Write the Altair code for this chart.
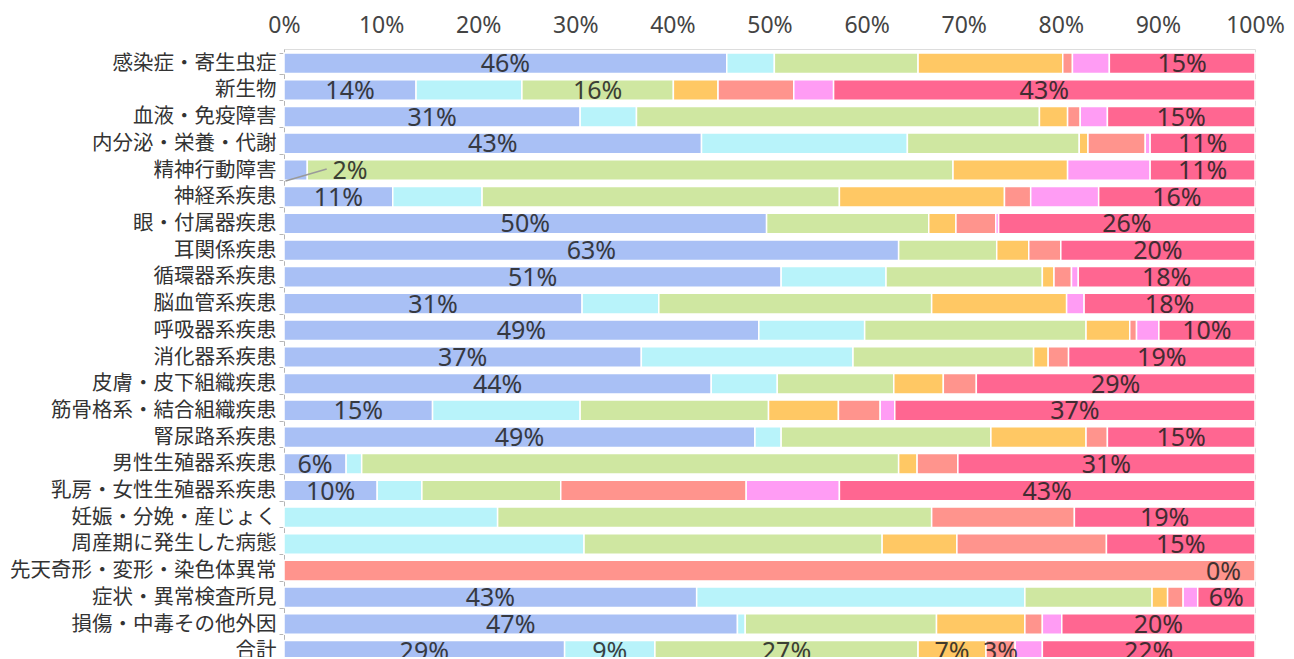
import altair as alt
import pandas as pd

categories = ["感染症・寄生虫症", "新生物", "血液・免疫障害", "内分泌・栄養・代謝", "精神行動障害",
              "神経系疾患", "眼・付属器疾患", "耳関係疾患", "循環器系疾患", "脳血管系疾患",
              "呼吸器系疾患", "消化器系疾患", "皮膚・皮下組織疾患", "筋骨格系・結合組織疾患",
              "腎尿路系疾患", "男性生殖器系疾患", "乳房・女性生殖器系疾患", "妊娠・分娩・産じょく",
              "周産期に発生した病態", "先天奇形・変形・染色体異常", "症状・異常検査所見",
              "損傷・中毒その他外因", "合計"]

series_names = ["A", "B", "C", "D", "E", "F", "G"]
series_colors = ["#A9C0F5", "#B8F3FA", "#CFE7A1", "#FFC864", "#FF948D", "#FF9CF4", "#FF6691"]

s_blue = [45.6, 13.6, 30.5, 43.0, 2.4, 11.2, 49.7, 63.3, 51.2, 30.7, 48.9, 36.8, 44.0, 15.3, 48.5, 6.4, 9.6, 0, 0, 0, 42.5, 46.7, 28.9]
s_cyan = [4.9, 10.9, 5.8, 21.2, 0, 9.2, 0, 0, 10.8, 7.9, 10.9, 21.8, 6.8, 15.2, 2.7, 1.6, 4.6, 22.0, 30.9, 0, 33.8, 0.8, 9.3]
s_green = [14.8, 15.6, 41.5, 17.7, 66.5, 36.8, 16.7, 10.1, 16.1, 28.1, 22.8, 18.6, 12.0, 19.4, 21.6, 55.3, 14.3, 44.7, 30.7, 0, 13.1, 19.7, 27.1]
s_orange = [14.9, 4.6, 2.9, 0.9, 11.8, 17.0, 2.8, 3.3, 1.2, 13.9, 4.5, 1.5, 5.1, 7.2, 9.8, 1.9, 0, 0, 7.7, 0, 1.6, 9.1, 7.0]
s_salmon = [1.0, 7.8, 1.3, 5.9, 0, 2.7, 4.1, 3.3, 1.8, 0, 0.7, 2.1, 3.4, 4.3, 2.2, 4.2, 19.1, 14.7, 15.4, 100, 1.6, 1.8, 3.0]
s_violet = [3.8, 4.1, 2.8, 0.5, 8.5, 7.0, 0.3, 0, 0.7, 1.8, 2.3, 0, 0, 1.5, 0, 0, 9.6, 0, 0, 0, 1.5, 2.0, 2.8]
s_hotpink = [15.0, 43.4, 15.2, 10.8, 10.8, 16.1, 26.4, 20.0, 18.2, 17.6, 9.9, 19.2, 28.7, 37.1, 15.2, 30.6, 42.8, 18.6, 15.3, 0, 5.9, 19.9, 21.9]

series_values = [s_blue, s_cyan, s_green, s_orange, s_salmon, s_violet, s_hotpink]

# segments that carry a value label (besides first and last series)
extra_labels = [("新生物", "C"), ("合計", "B"), ("合計", "C"), ("合計", "D"), ("合計", "E")]
callout_row = "精神行動障害"

rows = []
for i, cat in enumerate(categories):
    for k, (name, vals) in enumerate(zip(series_names, series_values)):
        v = vals[i]
        show = (name in ("A", "G") or (cat, name) in extra_labels)
        if name == "A" and (v == 0 or cat == callout_row):
            show = False
        rows.append({"cat": cat, "series": name, "k": k, "value": v,
                     "show": show, "txt": f"{int(v + 0.5)}%"})
df = pd.DataFrame(rows)

FONT_JP = "Noto Sans CJK JP"
FONT_NUM = "Noto Sans"
LABEL_SIZE = 25

yscale = alt.Scale(paddingInner=0.23, paddingOuter=0.15)
y_axis = alt.Axis(labelFont=FONT_JP, labelFontSize=20.5, labelColor="#333333",
                  labelLimit=0, tickBand="extent", tickSize=5, tickColor="#b5b5b5",
                  domainColor="#b5b5b5", labelPadding=3, grid=False)
y_enc = alt.Y("cat:N", sort=categories, title=None, scale=yscale, axis=y_axis)

xscale = alt.Scale(domain=[0, 100], nice=False)
x_axis = alt.Axis(orient="top", values=list(range(0, 101, 10)),
                  labelExpr="datum.value + '%'", ticks=False, domain=False,
                  grid=False, labelFont=FONT_NUM, labelFontSize=23,
                  labelColor="#444444", labelPadding=12, labelFlush=False,
                  labelOverlap=False, labelBound=False)

bars = alt.Chart(df).transform_filter("datum.value > 0").mark_bar(
    stroke="white", strokeWidth=1.5
).encode(
    x=alt.X("value:Q", stack="zero", scale=xscale, title=None, axis=x_axis),
    y=y_enc,
    color=alt.Color("series:N", scale=alt.Scale(domain=series_names, range=series_colors), legend=None),
    order=alt.Order("k:Q"),
)

stacked = alt.Chart(df).transform_stack(
    stack="value", groupby=["cat"], as_=["x0", "x1"], sort=[alt.SortField("k", order="ascending")]
).transform_calculate(mid="(datum.x0 + datum.x1) / 2")

labels = stacked.transform_filter("datum.show && datum.value > 0").mark_text(
    font=FONT_NUM, fontSize=LABEL_SIZE, color="#222222", opacity=0.85, baseline="middle", dy=1
).encode(x=alt.X("mid:Q", scale=xscale, title=None, axis=x_axis), y=y_enc, text="txt:N")

zero_labels = stacked.transform_filter("datum.show && datum.value == 0").mark_text(
    font=FONT_NUM, fontSize=LABEL_SIZE, color="#222222", opacity=0.85, baseline="middle",
    align="right", dx=-14, dy=1
).encode(x=alt.X("x1:Q", scale=xscale, title=None, axis=x_axis), y=y_enc, text="txt:N")

ci = categories.index(callout_row)
callout_df = pd.DataFrame({
    "cat": [callout_row],
    "x_from": [0.15],
    "x_to": [4.4],
    "x_text": [s_blue[ci] + 2.6],
    "txt": [f"{int(s_blue[ci] + 0.5)}%"],
})

callout_line = alt.Chart(callout_df).mark_rule(
    color="#9a9a9a", strokeWidth=1.5, yOffset=11, y2Offset=-1
).encode(
    x=alt.X("x_from:Q", scale=xscale, title=None, axis=x_axis),
    x2="x_to:Q",
    y=y_enc,
    y2="cat:N",
)

callout_text = alt.Chart(callout_df).mark_text(
    font=FONT_NUM, fontSize=LABEL_SIZE, color="#222222", opacity=0.85, baseline="middle",
    align="left", dy=1
).encode(x=alt.X("x_text:Q", scale=xscale, title=None, axis=x_axis), y=y_enc, text="txt:N")

chart = alt.layer(bars, labels, zero_labels, callout_line, callout_text).properties(
    width=971, height=616,
    padding={"left": 276, "top": 41, "right": 30, "bottom": -8},
    autosize=alt.AutoSizeParams(type="none"),
).configure_view(stroke=None).configure(background="white")

chart.save("out.html", embed_options={"renderer": "svg", "actions": False})
